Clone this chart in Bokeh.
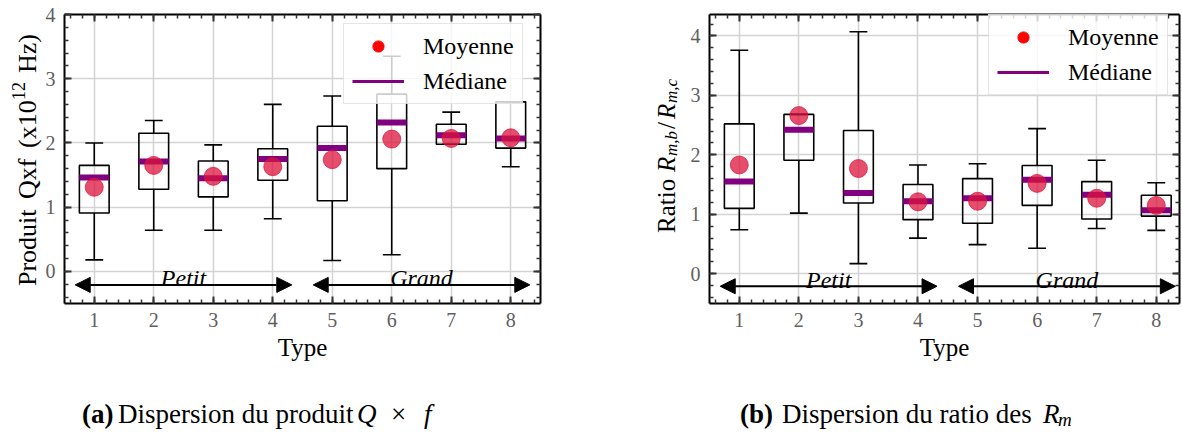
import numpy as np
from bokeh.plotting import figure
from bokeh.models import (Range1d, FixedTicker, LinearAxis, Label, Arrow,
                          NormalHead, Legend, LegendItem, Div)
from bokeh.layouts import row, column
from bokeh.embed import file_html
from bokeh.resources import INLINE

FONT = "Liberation Serif"

# ---------------- data ----------------
types = [1, 2, 3, 4, 5, 6, 7, 8]
tick_labels = ["1", "2", "3", "4", "5", "6", "7", "8"]

# (a) Produit Q x f (x10^12 Hz)
qf_low = [0.18, 0.64, 0.64, 0.82, 0.17, 0.26, 1.98, 1.63]
qf_q1 = [0.91, 1.28, 1.16, 1.42, 1.10, 1.60, 1.98, 1.92]
qf_med = [1.46, 1.71, 1.45, 1.75, 1.92, 2.32, 2.12, 2.07]
qf_mean = [1.31, 1.65, 1.48, 1.63, 1.74, 2.06, 2.07, 2.08]
qf_q3 = [1.65, 2.15, 1.72, 1.91, 2.26, 2.76, 2.29, 2.64]
qf_high = [2.00, 2.35, 1.97, 2.60, 2.73, 3.35, 2.48, 2.64]

# (b) Ratio R_m,b / R_m,c
rm_low = [0.74, 1.02, 0.17, 0.60, 0.49, 0.43, 0.76, 0.73]
rm_q1 = [1.10, 1.91, 1.19, 0.91, 0.85, 1.15, 0.92, 0.97]
rm_med = [1.55, 2.42, 1.36, 1.22, 1.27, 1.58, 1.33, 1.07]
rm_mean = [1.83, 2.66, 1.77, 1.21, 1.22, 1.52, 1.27, 1.15]
rm_q3 = [2.52, 2.68, 2.41, 1.50, 1.60, 1.82, 1.55, 1.32]
rm_high = [3.76, 2.68, 4.07, 1.83, 1.85, 2.44, 1.91, 1.53]

groups = ["Petit", "Grand"]
group_center = [2.5, 6.5]
group_start = [0.68, 4.68]
group_end = [4.32, 8.32]
group_arrow_y = -0.21
group_text_y = -0.10

legend_labels = ["Moyenne", "Médiane"]

BOX_HALF = 0.25
CAP_HALF = 0.15
TICK_GRAY = "#606060"


def style_axis(ax, show_labels=True):
    ax.axis_line_width = 2
    ax.axis_line_color = "black"
    ax.major_tick_in = 7
    ax.major_tick_out = 0
    ax.minor_tick_in = 4
    ax.minor_tick_out = 0
    ax.major_tick_line_width = 2
    ax.major_tick_line_color = "#333333"
    ax.minor_tick_line_width = 1.5
    ax.minor_tick_line_color = "#333333"
    ax.major_label_text_font = FONT
    ax.major_label_text_font_style = "normal"
    if show_labels:
        ax.major_label_text_color = TICK_GRAY
        ax.major_label_text_font_size = "20px"
        ax.major_label_standoff = 9
    else:
        ax.major_label_text_color = None
        ax.major_label_text_font_size = "1px"
        ax.major_label_standoff = 0


def make_panel(width, height, bl, br, bt, bb, xr, yr, ymax_tick,
               low, q1, med, mean, q3, high, legend_loc):
    p = figure(width=width, height=height, x_range=Range1d(*xr), y_range=Range1d(*yr),
               output_backend="svg", toolbar_location=None,
               min_border_left=bl, min_border_right=br,
               min_border_top=bt, min_border_bottom=bb)
    p.title.visible = False
    p.outline_line_color = None
    p.background_fill_color = "white"
    p.border_fill_color = "white"

    xt = FixedTicker(ticks=types,
                     minor_ticks=[round(v, 2) for v in np.arange(0.6, 8.5, 0.2)])
    yt = FixedTicker(ticks=list(range(0, ymax_tick + 1)),
                     minor_ticks=[round(v, 2) for v in np.arange(-0.4, ymax_tick + 0.6, 0.2)])
    p.xaxis.ticker = xt
    p.yaxis.ticker = yt
    p.xaxis.major_label_overrides = {t: l for t, l in zip(types, tick_labels)}
    style_axis(p.xaxis[0])
    style_axis(p.yaxis[0])
    xa = p.xaxis[0]
    xa.axis_label = "Type"
    xa.axis_label_text_font = FONT
    xa.axis_label_text_font_size = "25px"
    xa.axis_label_text_font_style = "normal"
    xa.axis_label_text_color = "black"
    xa.axis_label_standoff = 4

    top = LinearAxis(ticker=xt)
    style_axis(top, show_labels=False)
    p.add_layout(top, "above")
    right = LinearAxis(ticker=yt)
    style_axis(right, show_labels=False)
    p.add_layout(right, "right")

    p.xgrid.grid_line_color = "#d3d3d3"
    p.xgrid.grid_line_width = 1.5
    p.ygrid.grid_line_color = "#d3d3d3"
    p.ygrid.grid_line_width = 1.5

    xs = np.array(types, dtype=float)
    # boxes
    p.quad(left=xs - BOX_HALF, right=xs + BOX_HALF, bottom=q1, top=q3,
           fill_color=None, line_color="black", line_width=1.6)
    # whiskers
    p.segment(x0=xs, y0=q3, x1=xs, y1=high, line_color="black", line_width=1.6)
    p.segment(x0=xs, y0=q1, x1=xs, y1=low, line_color="black", line_width=1.6)
    p.segment(x0=xs - CAP_HALF, y0=high, x1=xs + CAP_HALF, y1=high,
              line_color="black", line_width=1.6)
    p.segment(x0=xs - CAP_HALF, y0=low, x1=xs + CAP_HALF, y1=low,
              line_color="black", line_width=1.6)
    # median
    p.segment(x0=xs - BOX_HALF, y0=med, x1=xs + BOX_HALF, y1=med,
              line_color="purple", line_width=6, line_cap="butt")
    # mean
    p.scatter(x=xs, y=mean, size=18, color="#dc143c", alpha=0.75)

    # groups
    for g, c, s, e in zip(groups, group_center, group_start, group_end):
        p.add_layout(Arrow(start=NormalHead(size=15, fill_color="black", line_color="black"),
                           end=NormalHead(size=15, fill_color="black", line_color="black"),
                           x_start=s, y_start=group_arrow_y, x_end=e, y_end=group_arrow_y,
                           line_width=2, line_color="black"))
        p.add_layout(Label(x=c, y=group_text_y, text=g, text_font=FONT,
                           text_font_size="24px", text_font_style="italic",
                           text_align="center", text_baseline="alphabetic",
                           text_color="black"))

    # legend (proxy renderers, not drawn in the plot: NaN position)
    nan = np.array([np.nan])
    r_mean = p.scatter(x=nan, y=nan, size=13, color="red")
    r_med = p.line(x=nan, y=nan, line_color="purple", line_width=3)
    leg = Legend(items=[LegendItem(label=legend_labels[0], renderers=[r_mean]),
                        LegendItem(label=legend_labels[1], renderers=[r_med])],
                 location=legend_loc, orientation="vertical")
    leg.label_text_font = FONT
    leg.label_text_font_size = "24px"
    leg.label_text_color = "black"
    leg.glyph_width = 52
    leg.glyph_height = 28
    leg.label_height = 28
    leg.label_standoff = 19
    leg.padding = 8
    leg.spacing = 7
    leg.margin = 0
    leg.border_line_color = "#cccccc"
    leg.border_line_width = 1
    leg.background_fill_alpha = 0.8
    p.add_layout(leg)
    return p


TOP_H = 363
YLAB_A_W = 42
YLAB_B_W = 46

# ---------------- panel (a) ----------------
p1 = make_panel(640 - YLAB_A_W, TOP_H, 64 - YLAB_A_W, 100, 14, TOP_H - 309,
                (0.5, 8.5), (-0.5, 4.0), 4,
                qf_low, qf_q1, qf_med, qf_mean, qf_q3, qf_high, (279, 199))

# ---------------- panel (b) ----------------
p2 = make_panel(1182 - 640 - YLAB_B_W, TOP_H, 709 - 640 - YLAB_B_W, 3, 14, TOP_H - 310,
                (0.5, 8.39), (-0.5, 4.36), 4,
                rm_low, rm_q1, rm_med, rm_mean, rm_q3, rm_high, (279, 208))

SERIF = "font-family:'Liberation Serif','Times New Roman',serif;color:black;"


def vlabel(width, left, start, pieces, size):
    """Vertical (rotated) axis title made of text pieces placed along its length."""
    html = ('<div style="position:relative;width:%dpx;height:%dpx;">' % (width, TOP_H)
            + '<div style="position:absolute;left:%dpx;top:%dpx;width:300px;height:30px;'
              'transform:rotate(-90deg);transform-origin:0 0;font-size:%dpx;line-height:30px;'
              'white-space:nowrap;%s">' % (left, start, size, SERIF))
    for txt, pos, style in pieces:
        html += ('<span style="position:absolute;left:%dpx;top:0px;%s">%s</span>'
                 % (pos, style, txt))
    html += '</div></div>'
    return Div(text=html, width=width, height=TOP_H, margin=(0, 0, 0, 0))


SUP = "font-size:18px;top:-9px;"
SUB = "font-style:italic;font-size:17px;top:5px;"
IT = "font-style:italic;"

ylab_a = vlabel(YLAB_A_W, 13, 286,
                [("Produit", 0, ""), ("Qxf", 87, ""), ("(x10", 138, ""),
                 ("12", 186, SUP), ("Hz)", 213, "")], 26)
ylab_b = vlabel(YLAB_B_W, 12, 233,
                [("Ratio", 0, ""), ("R", 61, IT), ("m,b", 77, SUB), ("/", 104, ""),
                 ("R", 114, IT), ("m,c", 130, SUB)], 25)

CAP_H = 432 - TOP_H


def caption(width, pieces):
    html = '<div style="position:relative;width:%dpx;height:%dpx;%s">' % (width, CAP_H, SERIF)
    for txt, x, style in pieces:
        html += ('<span style="position:absolute;left:%dpx;top:36px;line-height:30px;'
                 'white-space:nowrap;font-size:27px;%s">%s</span>' % (x, style, txt))
    html += '</div>'
    return Div(text=html, width=width, height=CAP_H, margin=(0, 0, 0, 0))


cap_a = caption(640, [("(a)", 82, "font-weight:bold;"),
                      ("Dispersion du produit", 118, ""),
                      ("Q", 357, IT),
                      ("×", 391, ""),
                      ("f", 424, IT)])
cap_b = caption(542, [("(b)", 100, "font-weight:bold;"),
                      ("Dispersion du ratio des", 142, ""),
                      ("R", 403, IT),
                      ("m", 418, IT + "font-size:19px;top:42px;")])

layout = column(row(ylab_a, p1, ylab_b, p2, spacing=0),
                row(cap_a, cap_b, spacing=0), spacing=0)
open("out.html", "w").write(file_html(layout, INLINE))
